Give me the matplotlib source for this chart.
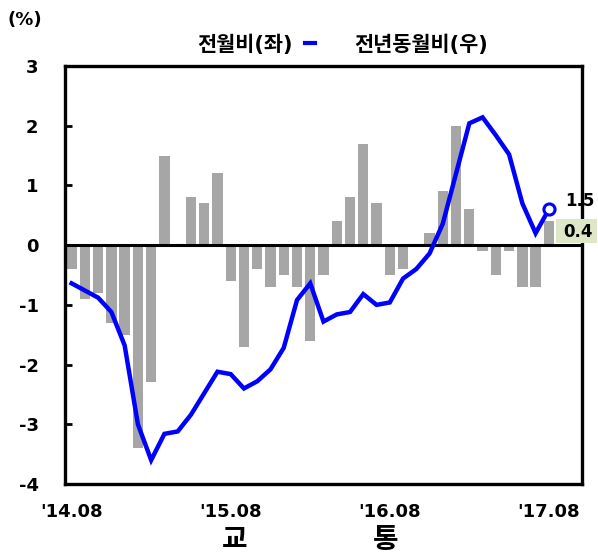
import matplotlib
matplotlib.use("Agg")
import matplotlib.pyplot as plt
from matplotlib.lines import Line2D
from matplotlib.patches import Rectangle

plt.rcParams['font.family'] = ['DejaVu Sans', 'Noto Sans CJK KR']

# monthly change (left axis, %), Aug 2014 .. Aug 2017
mom = [-0.4, -0.9, -0.8, -1.3, -1.5, -3.4, -2.3, 1.5, 0.0, 0.8, 0.7, 1.2,
       -0.6, -1.7, -0.4, -0.7, -0.5, -0.7, -1.6, -0.5, 0.4, 0.8, 1.7, 0.7,
       -0.5, -0.4, 0.0, 0.2, 0.9, 2.0, 0.6, -0.1, -0.5, -0.1, -0.7, -0.7, 0.4]
# year-on-year change (right axis, %)
yoy = [-1.6, -1.9, -2.2, -2.8, -4.2, -7.5, -9.0, -7.9, -7.8, -7.1, -6.2, -5.3,
       -5.4, -6.0, -5.7, -5.2, -4.3, -2.3, -1.6, -3.2, -2.9, -2.8, -2.05, -2.5,
       -2.4, -1.4, -1.0, -0.35, 0.9, 3.0, 5.1, 5.35, 4.6, 3.8, 1.75, 0.5, 1.5]
xlabels = ["'14.08", "'15.08", "'16.08", "'17.08"]
ylabels = [3, 2, 1, 0, -1, -2, -3, -4]

fig = plt.figure(figsize=(5.98, 5.55), dpi=100)
ax = fig.add_axes([65 / 598, 1 - 484 / 555, 517 / 598, 418 / 555])
ax.patch.set_visible(False)
x = list(range(len(mom)))

ax.bar(x, mom, width=0.78, color='#a6a6a6', zorder=2)
ax.axhline(0, color='black', lw=2.2, zorder=3)
ax.set_xlim(-0.5, 38.5)
ax.set_ylim(-4, 3)
ax.set_yticks(ylabels)
ax.set_yticklabels([str(v) for v in ylabels], fontsize=13, fontweight='bold')
ax.tick_params(axis='y', direction='in', length=5, width=2, right=True, pad=19)
ax.set_xticks([0, 12, 24, 36])
ax.set_xticklabels(xlabels, fontsize=13, fontweight='bold')
ax.tick_params(axis='x', length=0, pad=14)
for s in ax.spines.values():
    s.set_linewidth(2.4)
    s.set_zorder(5)

ax2 = ax.twinx()
ax2.patch.set_visible(False)
ax2.set_ylim(-10, 7.5)
ax2.set_yticks([])
for s in ax2.spines.values():
    s.set_visible(False)
ax2.plot(x, yoy, color='#0000ff', lw=3.2, zorder=4, solid_joinstyle='miter')
ax2.plot(x[-1], yoy[-1], 'o', ms=8, mfc='white', mec='#0000ff', mew=2.2, zorder=5)

# value labels
fig.text(565 / 598, 1 - 201 / 555, '1.5', fontsize=12, fontweight='bold',
         va='center', ha='left', zorder=-1)
fig.add_artist(Rectangle((556 / 598, 1 - 243 / 555), 41 / 598, 24 / 555,
                         transform=fig.transFigure, fc='#dde6c6', ec='none'))
fig.text(578 / 598, 1 - 232 / 555, '0.4', fontsize=12, fontweight='bold',
         va='center', ha='center')

# legend
fig.text(245 / 598, 1 - 45 / 555, '전월비(좌)', fontsize=15, fontweight='bold',
         ha='center', va='center')
fig.add_artist(Line2D([305 / 598, 315 / 598], [1 - 43 / 555, 1 - 43 / 555],
                      color='#0000ff', lw=3))
fig.text(421 / 598, 1 - 45 / 555, '전년동월비(우)', fontsize=15, fontweight='bold',
         ha='center', va='center')
fig.text(25 / 598, 1 - 20 / 555, '(%)', fontsize=13, fontweight='bold',
         ha='center', va='center')

# title under the chart
fig.text(235 / 598, 1 - 540 / 555, '교', fontsize=20, fontweight='heavy',
         ha='center', va='center')
fig.text(386 / 598, 1 - 540 / 555, '통', fontsize=20, fontweight='heavy',
         ha='center', va='center')

fig.savefig('out.png', dpi=100)
